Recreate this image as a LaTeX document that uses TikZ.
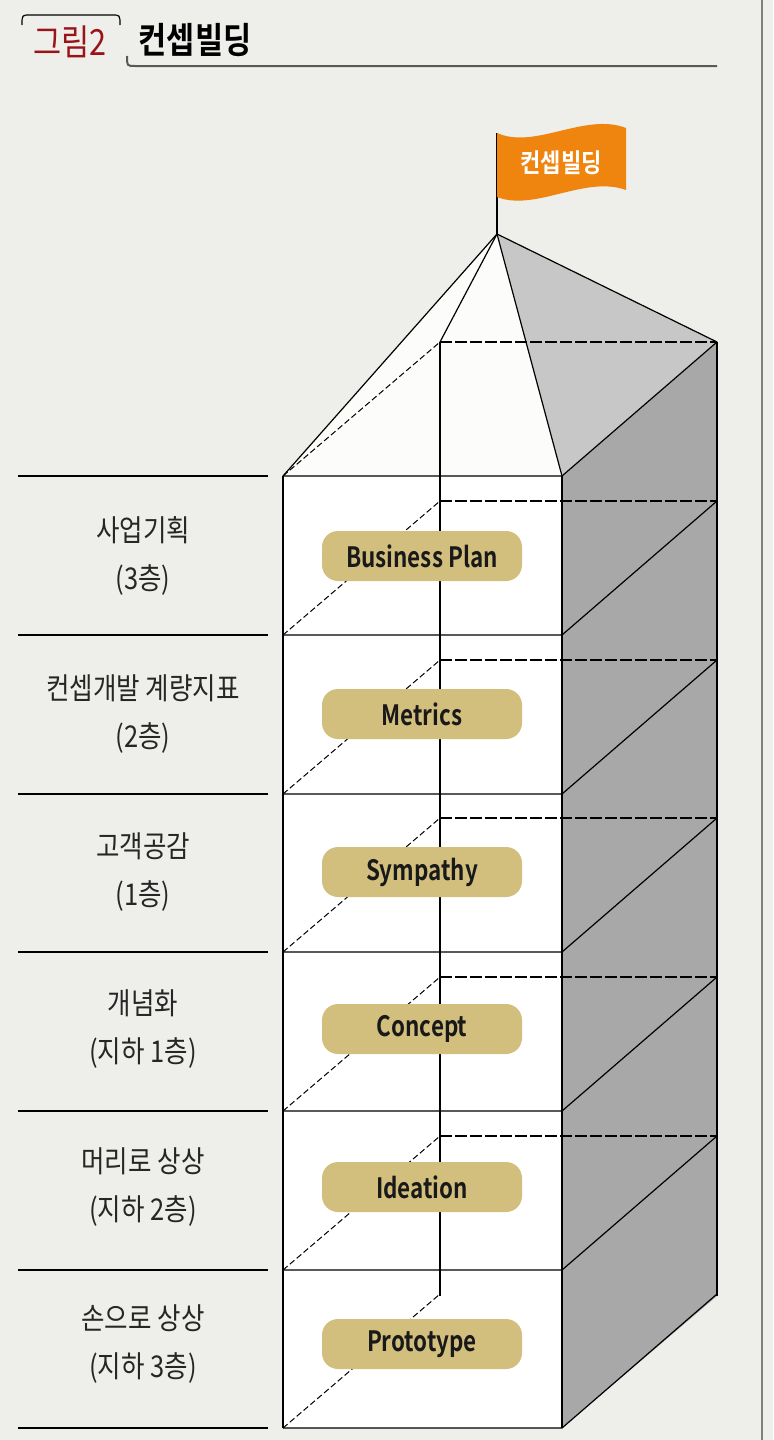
\documentclass[tikz,border=0pt]{standalone}
\usepackage{fontspec}
\setmainfont{Noto Sans CJK KR}
\newfontfamily\krb{Noto Sans CJK KR Bold}
\begin{document}
\begin{tikzpicture}[x=0.5pt,y=-0.5pt,
  edge/.style={black,line width=0.6pt},
  dsh/.style={black,line width=0.5pt,dash pattern=on 3pt off 1.5pt},
  lbl/.style={font=\fontsize{15}{21}\selectfont,align=center,text=black!85},
  pill/.style={fill=pilltan,rounded corners=8pt,minimum width=100pt,minimum height=25pt,font=\krb\fontsize{14}{16}\selectfont,text=black!90,inner sep=0pt}]
\definecolor{bg}{HTML}{EEEEEA}
\definecolor{pilltan}{HTML}{D3BF7D}
\definecolor{flag}{HTML}{EF840E}
\definecolor{darkred}{HTML}{9A1318}
\fill[bg] (0,0) rectangle (773,1440);
\useasboundingbox (0,0) rectangle (773,1440);
\draw[gray,line width=0.8pt] (762,0) -- (762,1440);
% header
\draw[black,line width=0.6pt] (22,25) .. controls (22,15) .. (30,15) -- (112,15) .. controls (120,15) .. (120,25);
\node[font=\fontsize{18}{20}\selectfont,text=darkred] (fig) at (70,42) {\scalebox{0.85}[1]{그림2}};
\node[font=\krb\fontsize{18}{20}\selectfont] (ttl) at (195,40) {\scalebox{0.85}[1]{컨셉빌딩}};
\draw[gray!70!black,line width=1pt] (127,56) .. controls (127,66) .. (135,66) -- (717,66);
% right face
\fill[black!34] (562,476) -- (717,342) -- (717,1296) -- (562,1428) -- cycle;
% front face
\fill[white] (283,476) rectangle (562,1428);
% roof
\fill[white!80!bg] (283,476) -- (497,234) -- (562,476) -- cycle;
\fill[black!22] (562,476) -- (497,234) -- (717,342) -- cycle;
\coordinate (apex) at (497,234);
\draw[edge] (283,476) -- (apex) -- (562,476);
\draw[edge] (apex) -- (717,342);
\draw[edge] (apex) -- (440,342);
\draw[dsh] (283,476) -- (440,342);
% back verticals
\draw[edge] (440,342) -- (440,1296);
\draw[edge] (717,342) -- (717,1296);
% floors
\foreach \y in {476,635,794,952,1111,1270,1428}{
  \draw[edge] (283,\y) -- (562,\y) -- ++(155,-134);
  \draw[edge] (18,\y) -- (268,\y);
}
\foreach \y in {635,794,952,1111,1270,1428}{
  \draw[dsh] (283,\y) -- (440,\y-134);
}
\foreach \y in {476,635,794,952,1111,1270}{
  \draw[dsh,line width=0.7pt,dash pattern=on 6pt off 1.5pt] (440,\y-134) -- (717,\y-134);
}
\draw[edge] (283,476) -- (283,1428);
\draw[edge] (562,476) -- (562,1428);
% flag
\draw[edge] (apex) -- (497,133);
\fill[flag] (497,133) .. controls (535,150) and (585,112) .. (626,128) -- (626,190) .. controls (585,175) and (535,212) .. (497,197) -- cycle;
\node[font=\krb\fontsize{13}{14}\selectfont,text=white] (flagtxt) at (561,163) {\scalebox{0.85}[1]{컨셉빌딩}};
% pills
\node[pill] (p1) at (422,556) {\scalebox{0.8}[1]{Business Plan}};
\node[pill] (p2) at (422,714) {\scalebox{0.8}[1]{Metrics}};
\node[pill] (p3) at (422,872) {\scalebox{0.8}[1]{Sympathy}};
\node[pill] (p4) at (422,1029) {\scalebox{0.8}[1]{Concept}};
\node[pill] (p5) at (422,1187) {\scalebox{0.8}[1]{Ideation}};
\node[pill] (p6) at (422,1344) {\scalebox{0.8}[1]{Prototype}};
% labels
\node[lbl] (l1) at (143,556) {\scalebox{0.85}[1]{사업기획}\\[3pt]\scalebox{0.85}[1]{(3층)}};
\node[lbl] (l2) at (143,714) {\scalebox{0.85}[1]{컨셉개발 계량지표}\\[3pt]\scalebox{0.85}[1]{(2층)}};
\node[lbl] (l3) at (143,872) {\scalebox{0.85}[1]{고객공감}\\[3pt]\scalebox{0.85}[1]{(1층)}};
\node[lbl] (l4) at (143,1029) {\scalebox{0.85}[1]{개념화}\\[3pt]\scalebox{0.85}[1]{(지하 1층)}};
\node[lbl] (l5) at (143,1187) {\scalebox{0.85}[1]{머리로 상상}\\[3pt]\scalebox{0.85}[1]{(지하 2층)}};
\node[lbl] (l6) at (143,1344) {\scalebox{0.85}[1]{손으로 상상}\\[3pt]\scalebox{0.85}[1]{(지하 3층)}};
\end{tikzpicture}
\end{document}
